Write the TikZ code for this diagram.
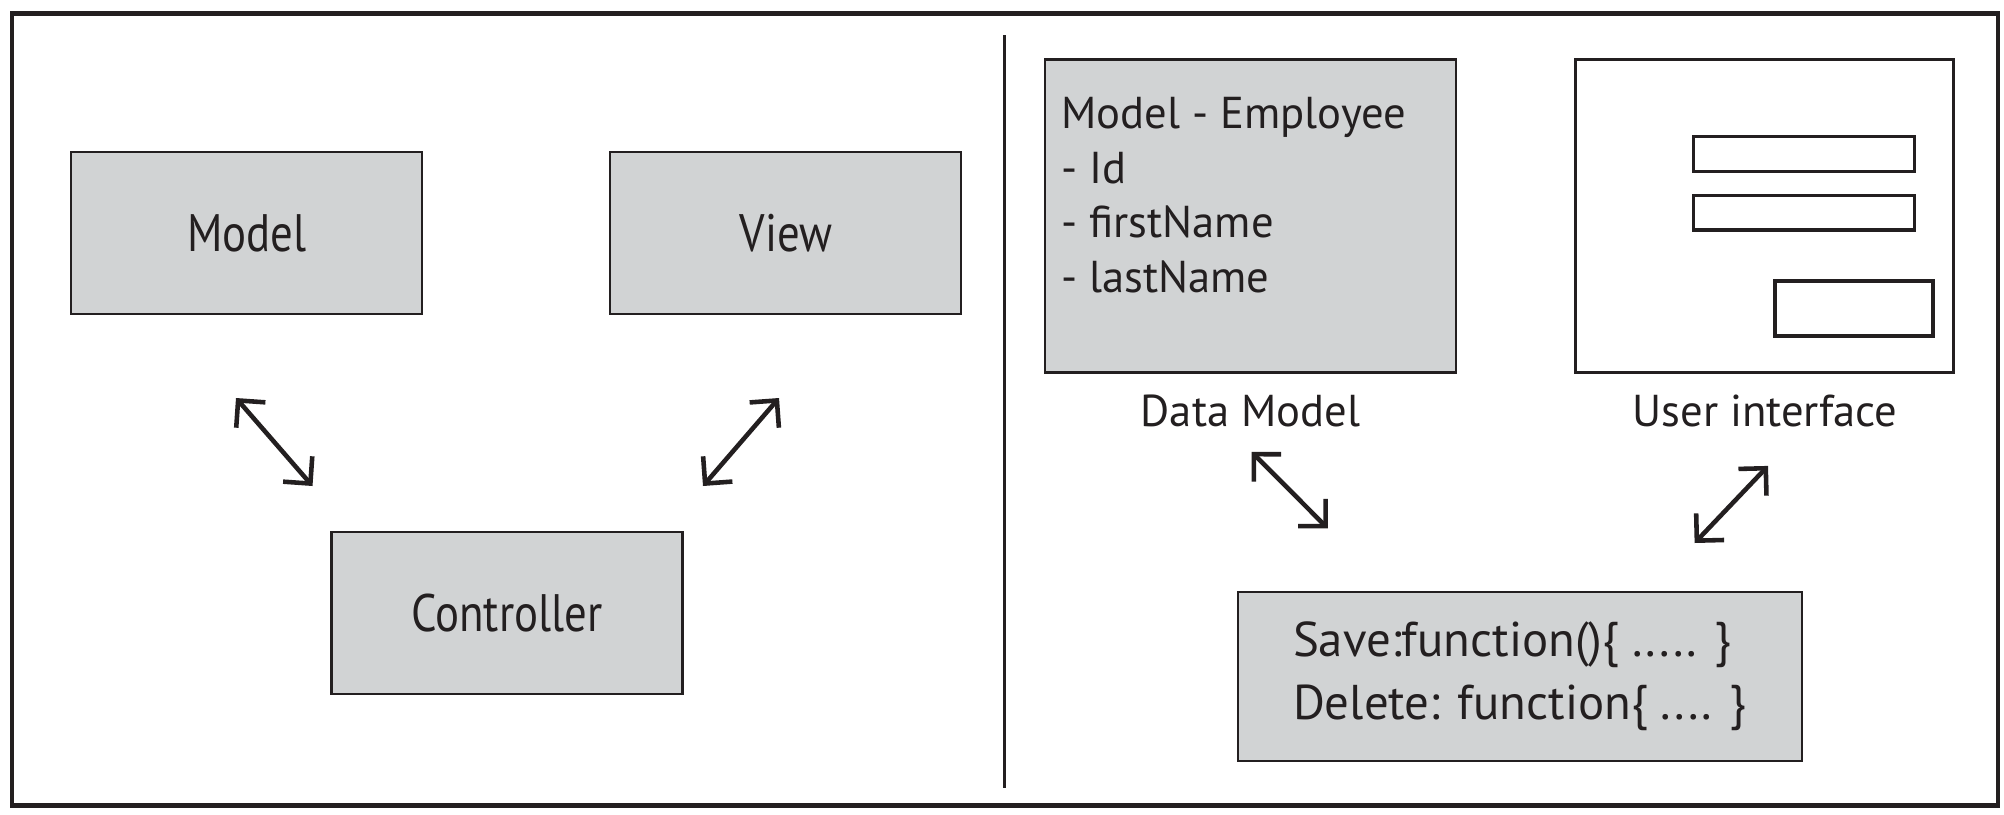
\documentclass[tikz,border=0pt]{standalone}
\usepackage{fontspec}
\setmainfont{PT Sans}
\newfontfamily\narrowfont[FakeStretch=0.85]{PT Sans}
\usetikzlibrary{arrows.meta,positioning}
\definecolor{boxgray}{RGB}{209,211,212}
\definecolor{inkblack}{RGB}{35,31,32}
\tikzset{
  mvcbox/.style  ={rectangle,draw=inkblack,fill=boxgray,line width=0.6pt,
                   minimum width=3.51cm,minimum height=1.62cm,
                   font=\narrowfont\fontsize{15}{17}\selectfont,text=inkblack},
  databox/.style ={rectangle,draw=inkblack,fill=boxgray,line width=0.7pt,
                   minimum width=4.11cm,minimum height=3.13cm},
  uibox/.style   ={rectangle,draw=inkblack,fill=white,line width=0.9pt,
                   minimum width=3.78cm,minimum height=3.13cm},
  field/.style   ={rectangle,draw=inkblack,line width=0.9pt,inner sep=0pt,
                   minimum width=2.21cm,minimum height=0.345cm},
  button/.style  ={rectangle,draw=inkblack,line width=1.25pt,inner sep=0pt,
                   minimum width=1.58cm,minimum height=0.55cm},
  caption/.style ={inner sep=0pt,font=\fontsize{12.7}{15}\selectfont,text=inkblack},
  listing/.style ={inner sep=0pt,align=left,font=\fontsize{12.7}{15.6}\selectfont,
                   text=inkblack},
  logicbox/.style={rectangle,draw=inkblack,fill=boxgray,line width=0.6pt,
                   minimum width=5.635cm,minimum height=1.69cm,align=left,
                   font=\fontsize{13.9}{17.8}\selectfont,text=inkblack},
  arr/.style     ={{Straight Barb[length=5.5pt,width=11pt,sharp]}-{Straight Barb[length=5.5pt,width=11pt,sharp]},
                   line width=1.3pt,draw=inkblack}
}
\begin{document}
\begin{tikzpicture}
  \useasboundingbox (0,0) rectangle (20.04,-8.14);
  % Frame and divider
  \draw [inkblack, line width=1.4pt] (0.12,-0.133) rectangle (19.98,-8.058);
  \draw [inkblack, line width=0.85pt] (10.04,-0.35) -- (10.04,-7.88);

  % Nodes, left side
  \node (model)      [mvcbox] at (2.468,-2.329)        {Model};
  \node (view)       [mvcbox, right=1.86cm of model]   {View};
  \node (controller) [mvcbox] at (5.07,-6.128)         {Controller};

  % Nodes, right side
  \node (datamodel)  [databox] at (12.505,-2.161)      {};
  \node (employee)   [listing, below right=0.38cm and 0.17cm of datamodel.north west]
                     {Model - Employee\\- Id\\- firstName\\- lastName};
  \node (ui)         [uibox, right=1.17cm of datamodel] {};
  \node (field1)     [field, below left=0.772cm and 0.393cm of ui.north east] {};
  \node (field2)     [field, below=0.21cm of field1]    {};
  \node (savebtn)    [button, above left=0.36cm and 0.2cm of ui.south east] {};
  \node (dmlabel)    [caption, below=0.2cm of datamodel] {Data Model};
  \node (uilabel)    [caption, below=0.2cm of ui]        {User interface};
  \node (logic)      [logicbox] at (15.198,-6.762)
                     {Save:function()\{ ..... \}\\Delete: function\{ .... \}};

  % Arrow ends
  \coordinate (mA) at (2.36,-3.98);   \coordinate (mB) at (3.125,-4.86);
  \coordinate (vA) at (7.79,-3.98);   \coordinate (vB) at (7.03,-4.86);
  \coordinate (dA) at (12.516,-4.519); \coordinate (dB) at (13.278,-5.284);
  \coordinate (uA) at (17.68,-4.659); \coordinate (uB) at (16.946,-5.43);

  % Arrows
  \draw [arr] (mA) -- (mB);
  \draw [arr] (vA) -- (vB);
  \draw [arr] (dA) -- (dB);
  \draw [arr] (uA) -- (uB);
\end{tikzpicture}
\end{document}
